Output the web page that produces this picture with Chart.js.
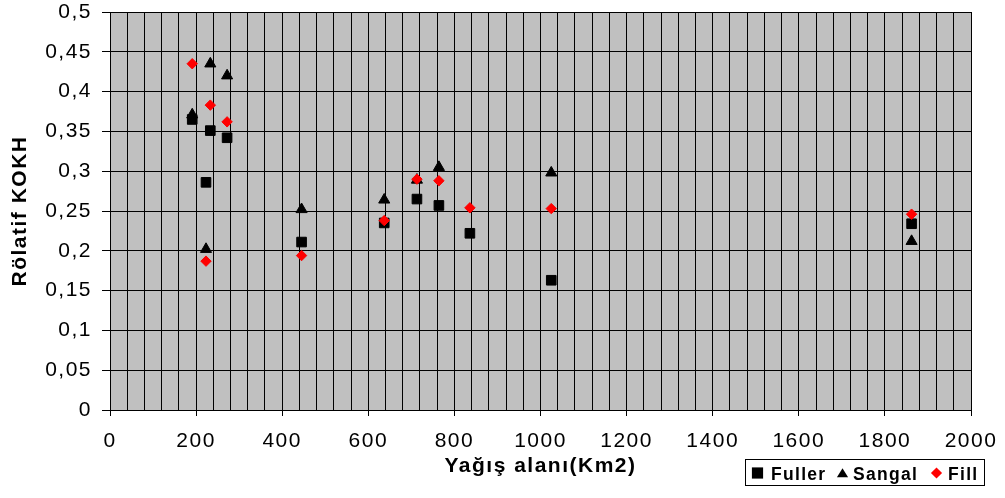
<!DOCTYPE html>
<html>
<head>
<meta charset="utf-8">
<script src="https://cdn.jsdelivr.net/npm/chart.js@4/dist/chart.umd.min.js"></script>
<style>
html,body{margin:0;padding:0;background:#fff;}
canvas{display:block;}
</style>
</head>
<body>
<canvas id="c" width="1005" height="498"></canvas>
<script>
// ---- data ----
const areaKm2 = [191, 223, 233, 272, 445, 637, 713, 764, 836, 1025, 1862];
const fuller  = [0.365, 0.286, 0.351, 0.342, 0.211, 0.235, 0.265, 0.257, 0.222, 0.163, 0.234];
const sangal  = [0.371, 0.202, 0.435, 0.420, 0.252, 0.264, 0.289, 0.305, null, 0.298, 0.212];
const fill    = [0.435, 0.187, 0.383, 0.362, 0.194, 0.238, 0.290, 0.288, 0.254, 0.253, 0.246];
const seriesNames = ['Fuller', 'Sangal', 'Fill'];
const xTickLabels = ['0','200','400','600','800','1000','1200','1400','1600','1800','2000'];
const yTickLabels = ['0','0,05','0,1','0,15','0,2','0,25','0,3','0,35','0,4','0,45','0,5'];
const xTitle = 'Yağış alanı(Km2)';
const yTitle = 'Rölatif KOKH';

function toPoints(xs, ys){
  const out = [];
  xs.forEach((x,i)=>{ if (ys[i] !== null) out.push({x:x, y:ys[i]}); });
  return out;
}

Chart.defaults.font.family = '"Liberation Sans", Arial, Helvetica, sans-serif';
Chart.defaults.color = '#000';

const spacingPlugin = {
  id: 'spacing',
  beforeUpdate(chart){ chart.ctx.letterSpacing = '1.5px'; },
  beforeDraw(chart){ chart.ctx.letterSpacing = '1.5px'; }
};

const plotBg = {
  id: 'plotBg',
  beforeDraw(chart){
    const {ctx, chartArea:a} = chart;
    ctx.save();
    ctx.fillStyle = '#c0c0c0';
    ctx.fillRect(a.left, a.top, a.right - a.left, a.bottom - a.top);
    ctx.restore();
  }
};

function drawMarker(ctx, style, x, y, r){
  ctx.beginPath();
  if (style === 'rect'){
    ctx.rect(x - r, y - r, 2*r, 2*r);
  } else if (style === 'triangle'){
    ctx.moveTo(x, y - r*0.85);
    ctx.lineTo(x + r, y + r*0.75);
    ctx.lineTo(x - r, y + r*0.75);
    ctx.closePath();
  } else {
    ctx.moveTo(x, y - r);
    ctx.lineTo(x + r, y);
    ctx.lineTo(x, y + r);
    ctx.lineTo(x - r, y);
    ctx.closePath();
  }
  ctx.fill();
}

const boxLegend = {
  id: 'boxLegend',
  afterDraw(chart){
    const ctx = chart.ctx;
    ctx.save();
    ctx.fillStyle = '#fff';
    ctx.fillRect(745.5, 459.5, 239, 26);
    ctx.strokeStyle = '#000';
    ctx.lineWidth = 1;
    ctx.strokeRect(745.5, 459.5, 239, 26);
    const markX = [757.5, 842.5, 936.5];
    const textX = [771, 853, 948];
    ctx.font = 'bold 17.5px "Liberation Sans", Arial, sans-serif';
    ctx.letterSpacing = '1.3px';
    ctx.textBaseline = 'alphabetic';
    ctx.textAlign = 'left';
    chart.data.datasets.forEach((ds, i) => {
      ctx.fillStyle = ds.backgroundColor;
      drawMarker(ctx, ds.pointStyle, markX[i], 473, 5.6);
      ctx.fillStyle = '#000';
      ctx.fillText(ds.label, textX[i], 479.5);
    });
    ctx.restore();
  }
};

new Chart(document.getElementById('c'), {
  type: 'scatter',
  data: {
    datasets: [
      { label: seriesNames[0], data: toPoints(areaKm2, fuller), pointStyle: 'rect', pointRadius: 6.8,
        backgroundColor: '#000', borderColor: '#000', borderWidth: 1, order: 1 },
      { label: seriesNames[1], data: toPoints(areaKm2, sangal), pointStyle: 'triangle', pointRadius: 6.4,
        backgroundColor: '#000', borderColor: '#000', borderWidth: 1, order: 2 },
      { label: seriesNames[2], data: toPoints(areaKm2, fill), pointStyle: 'rectRot', pointRadius: 5.2,
        backgroundColor: '#ff0000', borderColor: '#ff0000', borderWidth: 1, order: 0 }
    ]
  },
  options: {
    responsive: false,
    animation: false,
    events: [],
    layout: { padding: { left: 0, right: 34, top: 12, bottom: 0 } },
    plugins: {
      legend: { display: false },
      tooltip: { enabled: false }
    },
    scales: {
      x: {
        type: 'linear', position: 'bottom', min: 0, max: 2000,
        ticks: {
          stepSize: 40, autoSkip: false, maxRotation: 0, minRotation: 0,
          font: { size: 21 }, color: '#000', padding: 13,
          callback: (v) => (v % 200 === 0 ? xTickLabels[v / 200] : '')
        },
        grid: {
          color: '#000', lineWidth: 1, tickLength: 6,
          tickColor: (c) => (c.tick && c.tick.value % 200 === 0 ? '#000' : 'rgba(0,0,0,0)')
        },
        border: { color: '#000', width: 1 },
        title: { display: true, text: xTitle, color: '#000',
                 font: { size: 21, weight: 'bold' }, padding: { top: 4, bottom: 19 } },
        afterFit: (s) => { s.height = 88; s.paddingLeft = 0; s.paddingRight = 0; }
      },
      y: {
        type: 'linear', min: 0, max: 0.5,
        ticks: {
          stepSize: 0.05, font: { size: 21 }, color: '#000', padding: 10,
          callback: (v, i) => yTickLabels[i]
        },
        grid: { color: '#000', lineWidth: 1, tickLength: 8, tickColor: '#000' },
        border: { color: '#000', width: 1 },
        title: { display: true, text: yTitle, color: '#000',
                 font: { size: 21, weight: 'bold' }, padding: { top: 8, bottom: 4 } },
        afterFit: (s) => { s.width = 110; s.paddingTop = 0; s.paddingBottom = 0; }
      }
    }
  },
  plugins: [spacingPlugin, plotBg, boxLegend]
});
</script>
</body>
</html>
